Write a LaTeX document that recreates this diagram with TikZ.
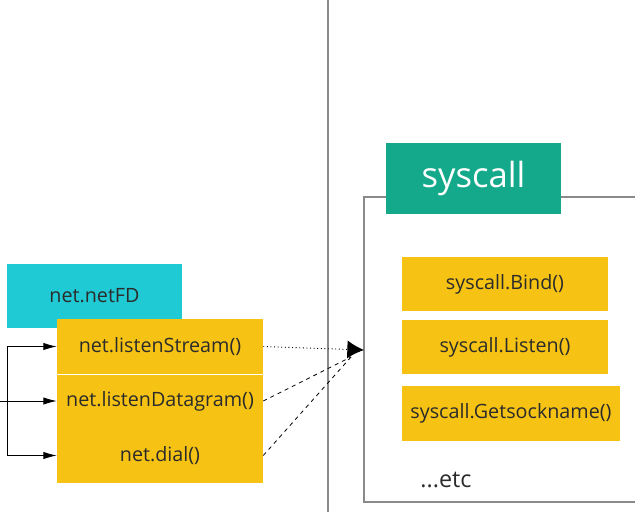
\documentclass[tikz,border=0pt]{standalone}
\usepackage{fontspec}
\setmainfont{Open Sans}
\usetikzlibrary{arrows.meta, positioning}
\definecolor{FdCyan}{HTML}{1FCAD4}
\definecolor{CallYellow}{HTML}{F6C314}
\definecolor{SysGreen}{HTML}{14A98B}
\definecolor{EdgeGray}{HTML}{8A8A8A}
\definecolor{DarkText}{HTML}{2B2B2B}

\begin{document}
\begin{tikzpicture}[
        x=0.75pt, y=-0.75pt,
        callbox/.style={
          rectangle, draw=none, fill=CallYellow,
          minimum width=154.5pt, minimum height=41pt,
          font=\fontsize{14.8}{17}\selectfont\color{DarkText},
          inner sep=0pt
        },
        fdbox/.style={
          rectangle, draw=none, fill=FdCyan,
          minimum width=131.25pt, minimum height=48pt,
          font=\fontsize{14.8}{17}\selectfont\color{DarkText},
          inner sep=0pt
        },
        pkgbox/.style={
          rectangle, draw=none, fill=SysGreen,
          minimum width=131.25pt, minimum height=53.25pt,
          font=\fontsize{26}{30}\selectfont\color{white},
          inner sep=0pt
        },
        arr/.style={-{Latex[length=10pt, width=5.5pt]}, black, line width=0.6pt},
        bigarr/.style={-{Latex[length=12.5pt, width=13.5pt]}, black, line width=0.7pt}
      ]
      \useasboundingbox (0,0) rectangle (635,514);

      % separator and syscall frame
      \coordinate (septop) at (328,0);
      \coordinate (sepbot) at (328,512);
      \draw[EdgeGray, line width=0.8pt] (septop) -- (sepbot);
      \draw[EdgeGray, line width=0.9pt] (635,197) -| (364,502) -- (635,502);

      % net side
      \node[fdbox] (netfd) at (94.5,296) {net.netFD};
      \node[callbox, minimum height=41.25pt] (stream)   at (160,346.5) {net.listenStream()};
      \node[callbox, minimum height=40.5pt]  (datagram) at (160,401)   {net.listenDatagram()};
      \node[callbox, minimum height=41.25pt] (dial)     at (160,455.5) {net.dial()};
      \draw[white, line width=1pt] (stream.south west) -- (stream.south east);

      \coordinate (entry) at (0,401);
      \coordinate (fork)  at (7,401);
      \draw[black, line width=0.6pt] (entry) -- (fork);
      \draw[arr] (fork) |- (stream.west);
      \draw[arr] (fork) -- (datagram.west);
      \draw[arr] (fork) |- (dial.west);

      % syscall side
      \node[pkgbox] (syscall) at (473.5,178.5) {syscall};
      \node[callbox, minimum height=40.5pt] (bind)   at (505,284)   {syscall.Bind()};
      \node[callbox, minimum height=40.5pt] (listen) at (505,347)   {syscall.Listen()};
      \node[callbox, minimum width=163.5pt, minimum height=41.25pt]
            (getsock) at (511,413.5) {syscall.Getsockname()};
      \node[font=\fontsize{17.5}{20}\selectfont\color{DarkText}] (etc) at (446,480) {...etc};

      \coordinate (hit)  at (364,350);
      \coordinate (hitb) at (351,357);
      \draw[bigarr, dotted] (stream.east) -- (hit);
      \draw[black, dashed, line width=0.6pt] (datagram.east) -- (hitb);
      \draw[black, dashed, line width=0.6pt] (dial.east) -- (hitb);
    \end{tikzpicture}
\end{document}
